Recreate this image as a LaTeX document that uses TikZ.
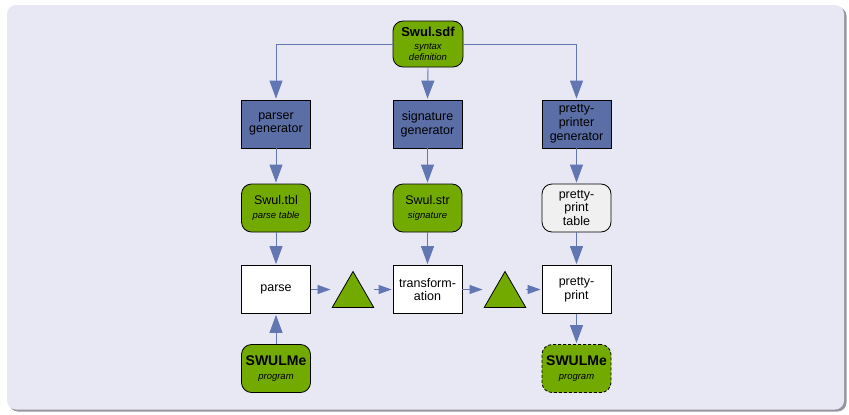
\documentclass[tikz,border=0pt]{standalone}
\usepackage{fontspec}
\setmainfont{Liberation Sans}
\usetikzlibrary{arrows.meta,shapes.geometric}
\definecolor{bgc}{RGB}{232,232,244}
\definecolor{shadowc}{RGB}{150,150,160}
\definecolor{genc}{RGB}{91,110,166}
\definecolor{arrc}{RGB}{98,118,178}
\definecolor{greenc}{RGB}{115,170,0}
\definecolor{tablec}{RGB}{240,240,240}
\tikzset{
  box/.style={draw=black, line width=0.8pt, minimum width=69pt, minimum height=48pt,
    inner sep=0pt, align=center, font=\fontsize{12.5}{13.8}\selectfont},
  gen/.style={box, fill=genc},
  proc/.style={box, fill=white},
  art/.style={box, fill=greenc, rounded corners=10pt},
  tabl/.style={box, fill=tablec, rounded corners=10pt},
  tri/.style={regular polygon, regular polygon sides=3, draw=black, line width=0.8pt,
    fill=greenc, minimum size=48pt, inner sep=0pt},
  varr/.style={draw=arrc, line width=0.9pt, -{Triangle[length=18pt,width=13pt]}, shorten >=1pt},
  harr/.style={draw=arrc, line width=0.9pt, -{Triangle[length=13pt,width=9pt]}, shorten >=1pt},
}
\newcommand{\bigname}[1]{{\fontsize{13}{14}\selectfont\bfseries #1}}
\newcommand{\smallit}[1]{{\fontsize{9.5}{10.5}\selectfont\itshape #1}}
\begin{document}
\begin{tikzpicture}[x=1pt,y=-1pt]
\useasboundingbox (0,0) rectangle (849,415);
\fill[shadowc, rounded corners=9pt] (9,7) rectangle (846.5,411.5);
\fill[bgc, rounded corners=9pt] (7,5) rectangle (844,409.5);

\node[art, minimum width=70pt, minimum height=46pt] (sdf) at (428,44)
  {\bigname{Swul.sdf}\\[-1pt]\smallit{syntax}\\[-3pt]\smallit{definition}};

\node[gen] (pgen) at (276,124) {parser\\generator};
\node[gen] (sgen) at (427.5,124) {signature\\generator};
\node[gen] (ppgen) at (576.5,124) {pretty-\\printer\\generator};

\node[art] (tbl) at (276,208) {Swul.tbl\\\smallit{parse table}};
\node[art] (str) at (427.5,208) {Swul.str\\\smallit{signature}};
\node[tabl] (ppt) at (576.5,208) {pretty-\\print\\table};

\node[proc] (parse) at (276,289.5) {parse};
\node[tri] (tri1) at (353,295.5) {};
\node[proc] (trans) at (427.5,289.5) {transform-\\ation};
\node[tri] (tri2) at (505,295.5) {};
\node[proc] (pp) at (576.5,289.5) {pretty-\\print};

\node[art] (prog) at (276,368.5) {\fontsize{14}{15}\selectfont\bfseries SWULMe\\\smallit{program}};
\node[art, densely dashed] (out) at (576.5,368.5) {\fontsize{14}{15}\selectfont\bfseries SWULMe\\\smallit{program}};

\draw[varr] (sdf.west) -| (pgen.north);
\draw[varr] (sdf.east) -| (ppgen.north);
\draw[varr] (sdf.south) -- (sgen.north);

\draw[varr] (pgen.south) -- (tbl.north);
\draw[varr] (sgen.south) -- (str.north);
\draw[varr] (ppgen.south) -- (ppt.north);

\draw[varr] (tbl.south) -- (parse.north);
\draw[varr] (str.south) -- (trans.north);
\draw[varr] (ppt.south) -- (pp.north);

\draw[varr] (prog.north) -- (parse.south);
\draw[varr] (pp.south) -- (out.north);

\draw[harr] (parse.east) -- (parse.east -| tri1.corner 2);
\draw[harr] (tri1.corner 3 |- trans.west) -- (trans.west);
\draw[harr] (trans.east) -- (trans.east -| tri2.corner 2);
\draw[harr] (tri2.corner 3 |- pp.west) -- (pp.west);
\end{tikzpicture}
\end{document}
